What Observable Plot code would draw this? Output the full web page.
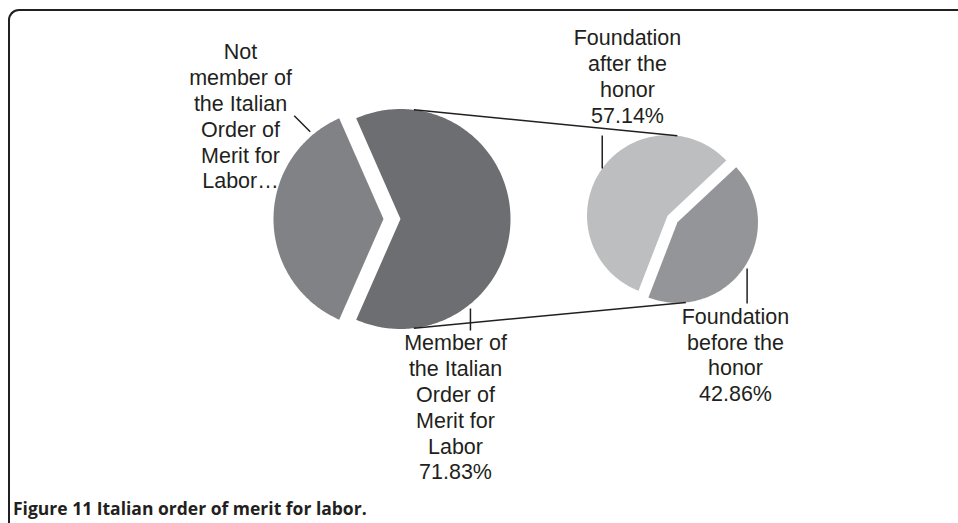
<!DOCTYPE html>
<html>
<head>
<meta charset="utf-8">
<script src="https://cdn.jsdelivr.net/npm/d3@7"></script>
<script src="https://cdn.jsdelivr.net/npm/@observablehq/plot@0.6"></script>
<style>
  html, body { margin: 0; padding: 0; background: #fff; overflow: hidden; }
  #wrap { position: relative; width: 958px; height: 523px; overflow: hidden; }
  #frame { position: absolute; left: 8px; top: 9px; width: 1100px; height: 700px;
           border-top: 2px solid #231f20; border-left: 2px solid #231f20;
           border-top-left-radius: 11px; box-sizing: border-box; }
  #chart { position: absolute; left: 0; top: 0; }
  #chart figure { margin: 0; }
  #chart figcaption { position: absolute; left: 13px; top: 496px; white-space: nowrap;
           font: 700 17.5px "Open Sans", sans-serif; color: #231f20; }
</style>
</head>
<body>
<div id="wrap"><div id="frame"></div><div id="chart"></div></div>
<script>
// ---- data ----
const mainCategories = ["Member of the Italian Order of Merit for Labor", "Not member of the Italian Order of Merit for Labor"];
const mainShares = [63.2, 36.8];            // drawn angular shares of the first pie
const mainLabels = ["Member of\nthe Italian\nOrder of\nMerit for\nLabor\n71.83%", "Not\nmember of\nthe Italian\nOrder of\nMerit for\nLabor…"];
const subCategories = ["Foundation before the honor", "Foundation after the honor"];
const subShares = [42.86, 57.14];
const subLabels = ["Foundation\nbefore the\nhonor\n42.86%", "Foundation\nafter the\nhonor\n57.14%"];

// ---- colours ----
const mainColors = ["#6d6e71", "#808285"];
const subColors = ["#939598", "#bcbec0"];

// ---- layout (pixel units of the drawing space) ----
const W = 958, H = 495;
const mainPie = {cx: 391.5, cy: 218.5, r: 110, explode: 8.5, center: 90};   // first slice centred on east
const subPie  = {cx: 672,   cy: 218.5, r: 80.5, explode: 6,  center: 124};
// label positions and leader lines (angle on slice, offset from rim, leader vector)
const mainLabelPos = [{x: 455, y: 331.5, ang: 142, off: 3.6, dx: 0, dy: 22}, {x: 240, y: 40.5, ang: 320, off: 4, dx: -16, dy: -16}];
const subLabelPos  = [{x: 735, y: 305, ang: 123.5, off: 3, dx: 0, dy: 35}, {x: 627, y: 26.5, ang: 305.8, off: 0, dx: 0, dy: -33}];
const connectorAngles = [{from: 7, to: 7, toSlice: 1}, {from: 173, to: 174, toSlice: 0}];

const rad = d => d * Math.PI / 180;
const pt = (cx, cy, r, a) => [cx + r * Math.sin(rad(a)), cy - r * Math.cos(rad(a))];

function buildPie(values, cats, colors, P, keyPrefix) {
  const total = d3.sum(values);
  const first = values[0] / total * 360;
  const arcs = d3.pie().sort(null).value(d => d)
    .startAngle(rad(P.center - first / 2)).endAngle(rad(P.center - first / 2 + 360))(values);
  const slices = arcs.map((a, i) => {
    const a0 = a.startAngle * 180 / Math.PI, a1 = a.endAngle * 180 / Math.PI;
    const mid = (a0 + a1) / 2;
    const [cx, cy] = pt(P.cx, P.cy, P.explode, mid);
    return {i, a0, a1, cx, cy, r: P.r, cat: cats[i], color: colors[i]};
  });
  const pts = [];
  for (const s of slices) {
    const key = keyPrefix + s.i;
    pts.push({key, x: s.cx, y: s.cy, color: s.color});
    const n = Math.ceil(s.a1 - s.a0);
    for (let k = 0; k <= n; k++) {
      const a = s.a0 + (s.a1 - s.a0) * k / n;
      const [x, y] = pt(s.cx, s.cy, s.r, a);
      pts.push({key, x, y, color: s.color});
    }
  }
  return {slices, pts};
}

const main = buildPie(mainShares, mainCategories, mainColors, mainPie, "m");
const sub = buildPie(subShares, subCategories, subColors, subPie, "s");

// connectors from the first pie's exploded slice to the second pie
const mainSlice = main.slices[0];
const connectors = connectorAngles.map(c => {
  const s = sub.slices[c.toSlice];
  const [x1, y1] = pt(mainSlice.cx, mainSlice.cy, mainSlice.r, c.from);
  const [x2, y2] = pt(s.cx, s.cy, s.r, c.to);
  return {x1, y1, x2, y2};
});

// labels & leader lines
const labels = [], leaders = [];
[[main, mainLabels, mainLabelPos], [sub, subLabels, subLabelPos]].forEach(([pie, texts, pos]) => {
  pie.slices.forEach((s, i) => {
    const p = pos[i];
    labels.push({x: p.x, y: p.y, text: texts[i]});
    const [x1, y1] = pt(s.cx, s.cy, s.r + p.off, p.ang);
    leaders.push({x1, y1, x2: x1 + p.dx, y2: y1 + p.dy});
  });
});

const chart = Plot.plot({
  width: W, height: H,
  margin: 0,
  x: {domain: [0, W], range: [0, W], axis: null},
  y: {domain: [0, H], range: [0, H], axis: null},
  color: {type: "identity"},
  style: {background: "transparent", overflow: "visible"},
  caption: "Figure 11 Italian order of merit for labor.",
  marks: [
    Plot.line(main.pts.concat(sub.pts), {x: "x", y: "y", z: "key", fill: "color", stroke: null, curve: "linear-closed"}),
    Plot.link(connectors, {x1: "x1", y1: "y1", x2: "x2", y2: "y2", stroke: "#231f20", strokeWidth: 1.5}),
    Plot.link(leaders, {x1: "x1", y1: "y1", x2: "x2", y2: "y2", stroke: "#231f20", strokeWidth: 1.5}),
    Plot.text(labels, {x: "x", y: "y", text: "text", textAnchor: "middle", lineAnchor: "top",
      lineHeight: 1.2, fontSize: 21.5, fontFamily: "'Liberation Sans', Arial, sans-serif", fill: "#231f20"})
  ]
});
document.getElementById("chart").appendChild(chart);
</script>
</body>
</html>
